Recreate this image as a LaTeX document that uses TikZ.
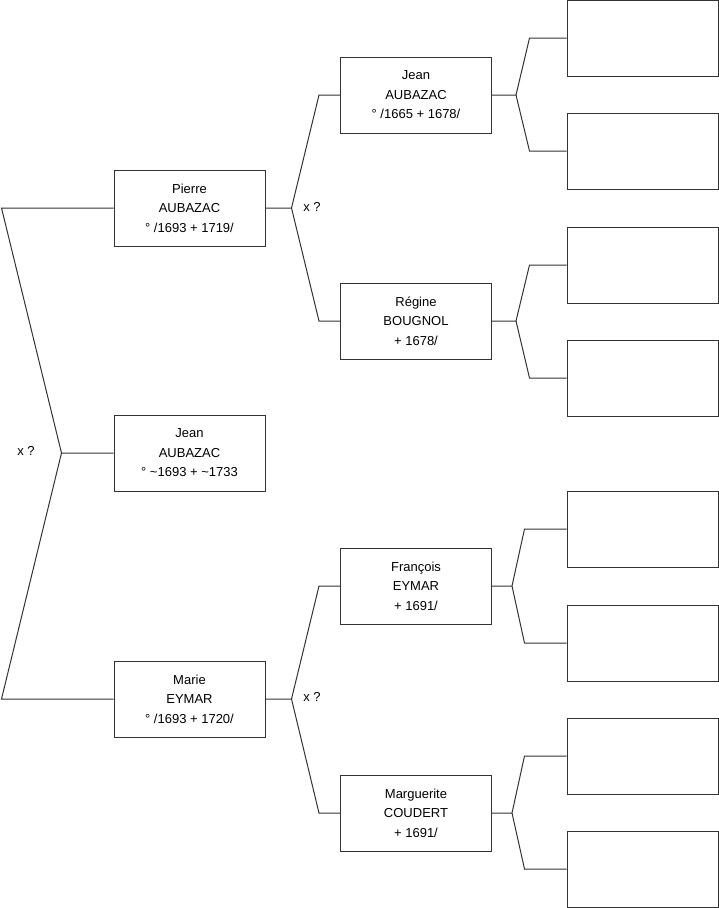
\documentclass[tikz,border=0pt]{standalone}
\usepackage{fontspec}
\setmainfont{Liberation Sans}
\usepackage{tikz}
\usetikzlibrary{positioning,calc}

\begin{document}
\begin{tikzpicture}[
      x=1pt, y=-1pt,
      person/.style={draw=black!80, line width=1pt, minimum width=151pt, minimum height=76pt,
        align=center, font=\fontsize{13}{19.5}\selectfont},
      blank/.style={draw=black!80, line width=1pt, minimum width=151pt, minimum height=76pt},
      link/.style={draw=black!80, line width=1pt},
      lbl/.style={font=\fontsize{13}{15}\selectfont, inner sep=0pt}
    ]
      \useasboundingbox (0,0) rectangle (719,908);
      % generation 1
      \node[person] (jean) at (189.5,453) {Jean\\AUBAZAC\\° \textasciitilde1693 + \textasciitilde1733};
      \node[person] (pierre) at (189.5,208) {Pierre\\AUBAZAC\\° /1693 + 1719/};
      \node[person] (marie) at (189.5,699) {Marie\\EYMAR\\° /1693 + 1720/};
      % generation 2
      \node[person] (jeanp) at (416,95) {Jean\\AUBAZAC\\° /1665 + 1678/};
      \node[person] (regine) at (416,321) {Régine\\BOUGNOL\\+ 1678/};
      \node[person] (francois) at (416,586) {François\\EYMAR\\+ 1691/};
      \node[person] (marguerite) at (416,813) {Marguerite\\COUDERT\\+ 1691/};
      % generation 3, empty
      \node[blank] (e1) at (642.5,38) {};
      \node[blank] (e2) at (642.5,151) {};
      \node[blank] (e3) at (642.5,265) {};
      \node[blank] (e4) at (642.5,378) {};
      \node[blank] (e5) at (642.5,529) {};
      \node[blank] (e6) at (642.5,643) {};
      \node[blank] (e7) at (642.5,756) {};
      \node[blank] (e8) at (642.5,869) {};
      % marriage marks
      \node[lbl] (xq0) at (26,451) {x ?};
      \node[lbl] (xq1) at (312,207) {x ?};
      \node[lbl] (xq2) at (312,697) {x ?};
      % connectors
      \draw[link] (jean.west) -- ++(-52,0) coordinate (fr) -- ([xshift=-112pt]pierre.west) -- (pierre.west);
      \draw[link] (fr) -- ([xshift=-112pt]marie.west) -- (marie.west);
      \draw[link] (pierre.east) -- ++(26,0) coordinate (fp) -- ([xshift=-21pt]jeanp.west) -- (jeanp.west);
      \draw[link] (fp) -- ([xshift=-21pt]regine.west) -- (regine.west);
      \draw[link] (marie.east) -- ++(26,0) coordinate (fm) -- ([xshift=-21pt]francois.west) -- (francois.west);
      \draw[link] (fm) -- ([xshift=-21pt]marguerite.west) -- (marguerite.west);
      \draw[link] (jeanp.east) -- ++(24,0) coordinate (fj) -- ([xshift=-37pt]e1.west) -- (e1.west);
      \draw[link] (fj) -- ([xshift=-37pt]e2.west) -- (e2.west);
      \draw[link] (regine.east) -- ++(24,0) coordinate (fg) -- ([xshift=-37pt]e3.west) -- (e3.west);
      \draw[link] (fg) -- ([xshift=-37pt]e4.west) -- (e4.west);
      \draw[link] (francois.east) -- ++(20,0) coordinate (ff) -- ([xshift=-42pt]e5.west) -- (e5.west);
      \draw[link] (ff) -- ([xshift=-42pt]e6.west) -- (e6.west);
      \draw[link] (marguerite.east) -- ++(20,0) coordinate (fc) -- ([xshift=-42pt]e7.west) -- (e7.west);
      \draw[link] (fc) -- ([xshift=-42pt]e8.west) -- (e8.west);
    \end{tikzpicture}
\end{document}
